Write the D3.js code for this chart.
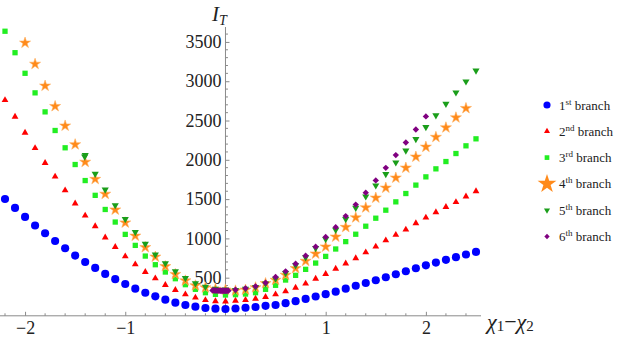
<!DOCTYPE html>
<html>
<head>
<meta charset="utf-8">
<script src="https://cdn.jsdelivr.net/npm/d3@7"></script>
<style>
  body { margin: 0; background: #fff; }
  svg { display: block; }
</style>
</head>
<body>
<div id="chart"></div>
<script>
// I_T branches vs chi1 - chi2

// shared x grid (chi1 - chi2)
var xGrid = [-2.2,-2.1,-2.0,-1.9,-1.8,-1.7,-1.6,-1.5,-1.4,-1.3,-1.2,-1.1,-1.0,-0.9,-0.8,-0.7,-0.6,-0.5,-0.4,-0.3,-0.2,-0.1,0.0,
             0.1,0.2,0.3,0.4,0.5,0.6,0.7,0.8,0.9,1.0,1.1,1.2,1.3,1.4,1.5,1.6,1.7,1.8,1.9,2.0,2.1,2.2,2.3,2.4,2.5];

var branch1 = [1502,1388,1273,1164,1065,967,874,781,700,624,548,481,419,360,309,263,220,182,153,131,114,106,102,
               108,117,127,142,153,176,201,230,260,290,322,360,398,433,467,505,544,582,620,657,692,727,761,795,828];
var branch2 = [2760,2548,2344,2149,1960,1786,1612,1444,1290,1154,1012,890,771,669,572,492,407,343,288,246,214,201,197,
               206,216,233,254,288,326,373,424,487,547,614,681,748,822,895,975,1045,1112,1193,1265,1333,1400,1462,1534,1600];
var branch3 = [3636,3363,3101,2852,2610,2373,2153,1940,1736,1548,1368,1208,1051,911,775,665,572,487,411,352,309,288,280,
               284,292,309,352,403,470,530,606,686,771,865,959,1053,1155,1257,1359,1465,1571,1678,1783,1885,1978,2080,2178,2267];
var branch4 = [null,null,3488,3219,2941,2681,2433,2195,1972,1754,1565,1365,1200,1032,886,765,644,544,462,400,373,355,345,
               335,345,375,428,470,534,619,712,805,894,1020,1143,1265,1392,1516,1643,1771,1898,2038,2164,2289,2410,2537,2656,null];
var branch5 = [null,null,null,null,null,null,null,null,2060,1822,1620,1422,1246,1080,930,794,682,580,495,427,385,360,350,
               343,360,381,424,487,559,657,758,877,991,1108,1245,1389,1533,1673,1818,1966,2117,2264,2417,2565,2712,2857,2997,3136];
var branch5ExtraX = [-1.405];
var branch5ExtraY = [2040];

var branch6X = [-0.13,-0.12,-0.11,-0.10,-0.09,-0.08,-0.07,-0.06,-0.05,-0.04,-0.03,-0.02,-0.01,0.0,0.01,0.02,0.03,
                0.1,0.2,0.3,0.4,0.5,0.6,0.7,0.8,0.9,1.0,1.1,1.2,1.3,1.4,1.5,1.6,1.7,1.8,1.9,2.0];
var branch6 = [338,338,337,337,336,336,335,335,334,334,334,333,333,333,333,334,335,
               347,364,390,436,508,581,678,780,894,1017,1143,1284,1430,1582,1738,1898,2060,2220,2386,2552];

var legendLabels = [["1","st"],["2","nd"],["3","rd"],["4","th"],["5","th"],["6","th"]];
var xTicks = [-2,-1,1,2];
var yTicks = [500,1000,1500,2000,2500,3000,3500];

var width = 623, height = 342;
var serif = "Liberation Serif, DejaVu Serif, serif";

var svg = d3.select("#chart").append("svg")
    .attr("width", width)
    .attr("height", height)
    .attr("font-family", serif);

var x = d3.scaleLinear().domain([-2.25, 2.55]).range([0, 481]);
var y = d3.scaleLinear().domain([15, 3690]).range([315.8, 27]);

var axisColor = "#8a8a8a";

// minor ticks
var xMinor = [], yMinor = [];
for (var i = -11; i <= 12; i++) { if (i % 5 !== 0) xMinor.push(i * 0.2); }
for (var j = 1; j <= 36; j++) { if (j % 5 !== 0) yMinor.push(j * 100); }

var xAxis = svg.append("g")
    .attr("transform", "translate(0," + y(15) + ")")
    .call(d3.axisBottom(x).tickValues(xTicks).tickSize(-4).tickPadding(5)
        .tickFormat(function(d) { return d < 0 ? "\u2212" + Math.abs(d) : String(d); }));
xAxis.attr("font-family", serif).attr("font-size", 18);
xAxis.select(".domain").attr("stroke", axisColor).attr("d", "M0,0H481");
xAxis.selectAll(".tick line").attr("stroke", axisColor);
xAxis.selectAll(".tick text").attr("fill", "#222");

svg.append("g").selectAll("line").data(xMinor).enter().append("line")
    .attr("x1", function(d) { return x(d); }).attr("x2", function(d) { return x(d); })
    .attr("y1", y(15)).attr("y2", y(15) - 2.5)
    .attr("stroke", axisColor);

var yAxis = svg.append("g")
    .attr("transform", "translate(" + x(0) + ",0)")
    .call(d3.axisLeft(y).tickValues(yTicks).tickSize(-4).tickPadding(4)
        .tickFormat(d3.format("d")));
yAxis.attr("font-family", serif).attr("font-size", 18);
yAxis.select(".domain").attr("stroke", axisColor).attr("d", "M0," + y(15) + "V27");
yAxis.selectAll(".tick line").attr("stroke", axisColor);
yAxis.selectAll(".tick text").attr("fill", "#222");

svg.append("g").selectAll("line").data(yMinor).enter().append("line")
    .attr("x1", x(0)).attr("x2", x(0) + 2.5)
    .attr("y1", function(d) { return y(d); }).attr("y2", function(d) { return y(d); })
    .attr("stroke", axisColor);

// axis labels
var yLab = svg.append("text")
    .attr("x", 212).attr("y", 21)
    .style("font-style", "italic")
    .style("font-size", "21px")
    .attr("fill", "#222");
yLab.append("tspan").text("I");
yLab.append("tspan").attr("dy", 4).style("font-size", "14px").text("T");

var xLab = svg.append("text")
    .attr("x", 487).attr("y", 329)
    .style("font-size", "22px")
    .attr("fill", "#222");
xLab.append("tspan").style("font-style", "italic").text("\u03c7");
xLab.append("tspan").attr("dy", 2).style("font-size", "15px").text("1");
xLab.append("tspan").attr("dy", -2).text("\u2212");
xLab.append("tspan").style("font-style", "italic").text("\u03c7");
xLab.append("tspan").attr("dy", 2).style("font-size", "15px").text("2");

// series styles
var series = [
    {vals: branch1, xs: xGrid, color: "#0000ff", sym: d3.symbolCircle, size: 52, rot: 0, legSize: 40},
    {vals: branch2, xs: xGrid, color: "#ff0000", sym: d3.symbolTriangle, size: 20, rot: 0, legSize: 16},
    {vals: branch3, xs: xGrid, color: "#22ee22", sym: d3.symbolSquare, size: 28, rot: 0, legSize: 22},
    {vals: branch4, xs: xGrid, color: "#ff8a1a", sym: d3.symbolStar, size: 38, rot: 0, legSize: 110},
    {vals: branch5, xs: xGrid, color: "#1a9e1a", sym: d3.symbolTriangle, size: 22, rot: 180, legSize: 16},
    {vals: branch6, xs: branch6X, color: "#800080", sym: d3.symbolDiamond2, size: 26, rot: 0, legSize: 18}
];

series.forEach(function(s, k) {
    var pts = [];
    s.vals.forEach(function(v, i) { if (v !== null) pts.push([s.xs[i], v]); });
    if (k === 4) branch5ExtraX.forEach(function(xx, i) { pts.push([xx, branch5ExtraY[i]]); });

    svg.append("g").selectAll("path").data(pts).enter().append("path")
        .attr("d", d3.symbol().type(s.sym).size(s.size))
        .attr("transform", function(d) {
            return "translate(" + x(d[0]) + "," + y(d[1]) + ") rotate(" + s.rot + ")";
        })
        .attr("fill", s.color)
        .attr("stroke", k === 3 ? "#ffb060" : "none")
        .attr("stroke-width", 0.6);
});

// legend
var legend = svg.selectAll("g.legend")
    .data(series)
    .enter().append("g")
    .attr("class", "legend")
    .attr("transform", function(d, i) { return "translate(547," + (105 + i * 26.3) + ")"; });

legend.append("path")
    .attr("d", function(d) { return d3.symbol().type(d.sym).size(d.legSize)(); })
    .attr("transform", function(d) { return "rotate(" + d.rot + ")"; })
    .attr("fill", function(d) { return d.color; });

var legText = legend.append("text")
    .attr("x", 12)
    .attr("dy", "0.35em")
    .style("font-size", "13px")
    .attr("fill", "#222");

legText.each(function(d, i) {
    var t = d3.select(this);
    t.append("tspan").text(legendLabels[i][0]);
    t.append("tspan").attr("dy", -5).style("font-size", "9px").text(legendLabels[i][1]);
    t.append("tspan").attr("dy", 5).text(" branch");
});
</script>
</body>
</html>
